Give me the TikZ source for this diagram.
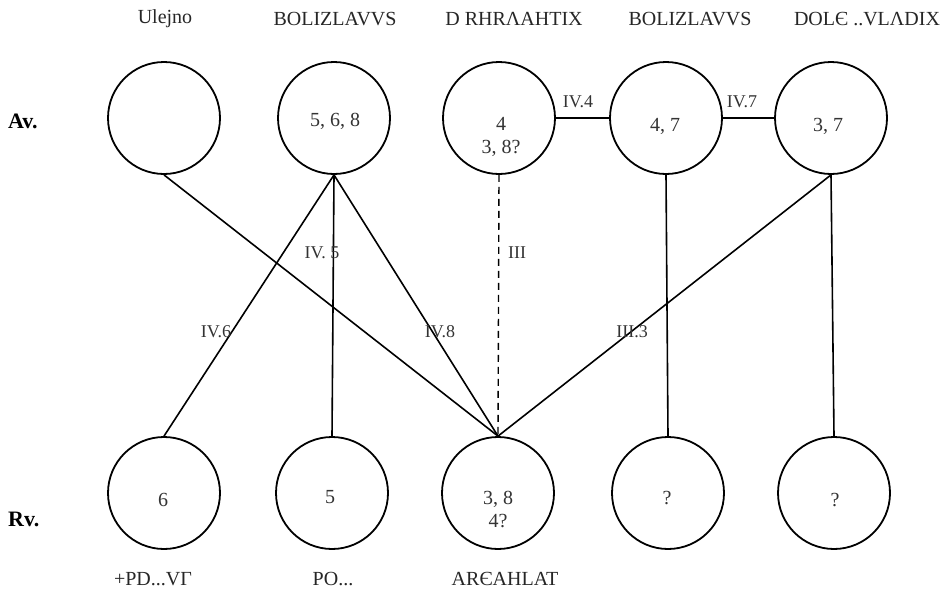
\documentclass[tikz,border=0pt]{standalone}
\usepackage{fontspec}
\setmainfont{Liberation Serif}
\begin{document}
\begin{tikzpicture}[x=1pt,y=-1pt,
  coin/.style={circle,draw=black,line width=1.8pt,minimum size=112pt,inner sep=0pt},
  num/.style={text=black!80,font=\fontsize{20}{25}\selectfont,align=center,inner sep=0pt},
  legend/.style={text=black!85,font=\fontsize{20}{24}\selectfont,inner sep=0pt},
  side/.style={font=\bfseries\fontsize{22}{26}\selectfont,inner sep=0pt},
  elab/.style={text=black!80,font=\fontsize{18}{22}\selectfont,inner sep=0pt},
  link/.style={line width=1.6pt,draw=black},
  dlink/.style={line width=1.4pt,draw=black,dash pattern=on 7pt off 5pt}]
\useasboundingbox (0,0) rectangle (952,597);
% top legends
\node[legend] (l1) at (165,19) {Ulejno};
\node[legend] (l2) at (335,19) {BOLIZLAVVS};
\node[legend] (l3) at (514,19) {D RHRΛAHTIX};
\node[legend] (l4) at (690,19) {BOLIZLAVVS};
\node[legend] (l5) at (867,19) {DOLЄ ..VLΛDIX};
% side labels
\node[side,anchor=west] (av) at (8,121) {Av.};
\node[side,anchor=west] (rv) at (8,519) {Rv.};
% top coins
\node[coin] (t1) at (164,118) {};
\node[coin] (t2) at (334,118) {};
\node[coin] (t3) at (499,118) {};
\node[coin] (t4) at (666,118) {};
\node[coin] (t5) at (831,118) {};
\node[num] (t2x) at (335,121) {5, 6, 8};
\node[num] (t3x) at (501,137) {4\\[-2pt]3, 8?};
\node[num] (t4x) at (665,126) {4, 7};
\node[num] (t5x) at (828,126) {3, 7};
% bottom coins
\node[coin] (b1) at (164,493) {};
\node[coin] (b2) at (332,493) {};
\node[coin] (b3) at (498,493) {};
\node[coin] (b4) at (668,493) {};
\node[coin] (b5) at (834,493) {};
\node[num] (b1x) at (163,500) {6};
\node[num] (b2x) at (330,497) {5};
\node[num] (b3x) at (498,509) {3, 8\\[-2pt]4?};
\node[num] (b4x) at (667,498) {?};
\node[num] (b5x) at (835,500) {?};
% bottom legends
\node[legend] (m1) at (153,579) {+PD...VΓ};
\node[legend] (m2) at (333,579) {PO...};
\node[legend] (m3) at (505,579) {ARЄAHLAT};
% connectors
\draw[link] (t3.east) -- (t4.west);
\draw[link] (t4.east) -- (t5.west);
\draw[link] (t1.south) -- (b3.north);
\draw[link] (t2.south) -- (b1.north);
\draw[link] (t2.south) -- (b2.north);
\draw[link] (t2.south) -- (b3.north);
\draw[dlink] (t3.south) -- (b3.north);
\draw[link] (t5.south) -- (b3.north);
\draw[link] (t4.south) -- (b4.north);
\draw[link] (t5.south) -- (b5.north);
% connector labels
\node[elab] (e1) at (578,102) {IV.4};
\node[elab] (e2) at (742,102) {IV.7};
\node[elab] (e3) at (322,253) {IV. 5};
\node[elab] (e4) at (517,253) {III};
\node[elab] (e5) at (216,332) {IV.6};
\node[elab] (e6) at (440,332) {IV.8};
\node[elab] (e7) at (632,332) {III.3};
\end{tikzpicture}
\end{document}
